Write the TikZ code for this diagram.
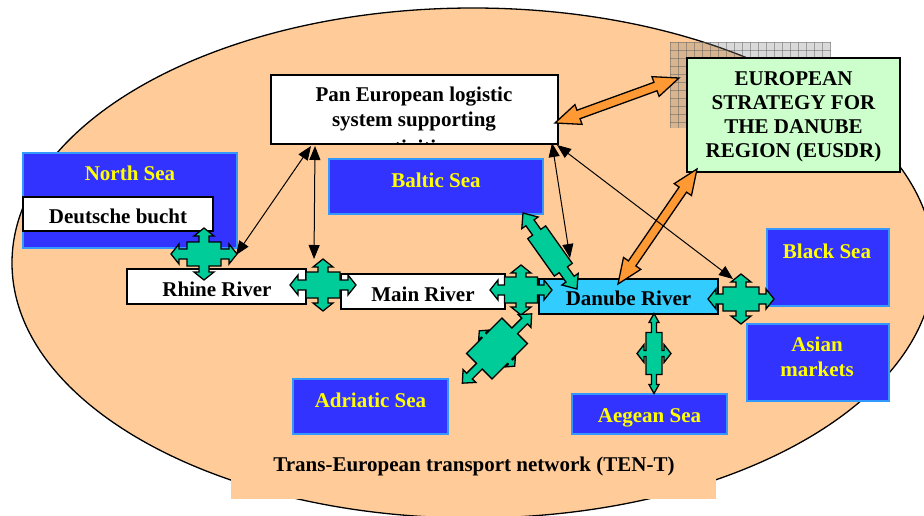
\documentclass[tikz,border=0pt]{standalone}
\usepackage{fontspec}
\setmainfont{Liberation Serif}
\usetikzlibrary{arrows.meta,calc}

\definecolor{bgorange}{HTML}{FFCC99}
\definecolor{seablue}{HTML}{3333FF}
\definecolor{seaedge}{HTML}{3399FF}
\definecolor{seayellow}{HTML}{FFFF00}
\definecolor{eugreen}{HTML}{CCFFCC}
\definecolor{danubecyan}{HTML}{33CCFF}
\definecolor{crossgreen}{HTML}{00CC99}
\definecolor{arrorange}{HTML}{FF9933}

% side-arrow parameters for the quad arrows
\def\qss{5}\def\qsh{10}\def\qsl{8}
% #1 centre, #2 rotation, #3 body half-length, #4 body half-width,
% #5 axis tip distance, #6 side tip distance, #7 stem half-width,
% #8 head half-width, #9 head length
\newcommand\quadarrow[9]{%
 \begin{scope}[shift={(#1)},rotate=#2]
 \path[qstyle] (#3,-#7) -- ({#5-#9},-#7) -- ({#5-#9},-#8) -- (#5,0) -- ({#5-#9},#8) -- ({#5-#9},#7) -- (#3,#7) -- (#3,#4)
   -- (\qss,#4) -- (\qss,{#6-\qsl}) -- (\qsh,{#6-\qsl}) -- (0,#6) -- (-\qsh,{#6-\qsl}) -- (-\qss,{#6-\qsl}) -- (-\qss,#4) -- (-#3,#4)
   -- (-#3,#7) -- ({-(#5-#9)},#7) -- ({-(#5-#9)},#8) -- (-#5,0) -- ({-(#5-#9)},-#8) -- ({-(#5-#9)},-#7) -- (-#3,-#7) -- (-#3,-#4)
   -- (-\qss,-#4) -- (-\qss,{-(#6-\qsl)}) -- (-\qsh,{-(#6-\qsl)}) -- (0,-#6) -- (\qsh,{-(#6-\qsl)}) -- (\qss,{-(#6-\qsl)}) -- (\qss,-#4) -- (#3,-#4) -- cycle;
 \end{scope}}

% block double arrow: #1 from, #2 to, #3 shaft half-width, #4 head half-width, #5 head length
\newcommand\blockarrow[5]{%
 \path[oarrow] (#1)
 -- ($(#1)!#5!(#2)!#4!90:(#2)$)
 -- ($(#1)!#5!(#2)!#3!90:(#2)$)
 -- ($(#2)!#5!(#1)!#3!-90:(#1)$)
 -- ($(#2)!#5!(#1)!#4!-90:(#1)$)
 -- (#2)
 -- ($(#2)!#5!(#1)!#4!90:(#1)$)
 -- ($(#2)!#5!(#1)!#3!90:(#1)$)
 -- ($(#1)!#5!(#2)!#3!-90:(#2)$)
 -- ($(#1)!#5!(#2)!#4!-90:(#2)$)
 -- cycle;}

\begin{document}
\begin{tikzpicture}[x=1pt,y=-1pt,
 lbl/.style={font=\bfseries\fontsize{21}{24}\selectfont, anchor=base, inner sep=0pt},
 ylbl/.style={lbl, text=seayellow},
 seabox/.style={draw=seaedge, fill=seablue, line width=1.5pt, inner sep=0pt},
 wbox/.style={draw=black, fill=white, line width=1.5pt, inner sep=0pt},
 qstyle/.style={draw=black, fill=crossgreen, line width=1.3pt},
 oarrow/.style={draw=black, fill=arrorange, line width=1.3pt},
 blk/.style={line width=1pt, {Triangle[length=14pt,width=11pt]}-{Triangle[length=14pt,width=11pt]}},
]
\useasboundingbox (0,0) rectangle (924,515);

% background ellipse and lower tab
\draw[fill=bgorange, line width=1.3pt] (473,263) ellipse [x radius=461, y radius=255];
\fill[bgorange] (231,430) rectangle (716,499);
\node[lbl] (tent) at (474,471) {Trans-European transport network (TEN-T)};

% hatched area behind EUSDR
\fill[gray, opacity=0.3] (670,42) rectangle (831,128);
\foreach \gx in {670,678,...,830} \draw[gray!70!black, opacity=0.45, line width=0.5pt] (\gx,42) -- (\gx,128);
\foreach \gy in {42,50,...,127} \draw[gray!70!black, opacity=0.45, line width=0.5pt] (670,\gy) -- (831,\gy);

% boxes
\node[seabox, minimum width=214, minimum height=95] (ns) at (130,200.5) {};
\node[ylbl] (nst) at (130,180) {North Sea};
\node[wbox, minimum width=190, minimum height=34] (db) at (118,214) {};
\node[lbl] (dbt) at (118,223) {Deutsche bucht};

\node[wbox, minimum width=287, minimum height=69] (pan) at (414.5,109.5) {};
\node[lbl] (pan1) at (414,101) {Pan European logistic};
\node[lbl] (pan2) at (414,126) {system supporting};
\begin{scope}
 \clip ($(pan.south west)+(0.75,-0.75)$) rectangle ($(pan.north east)+(-0.75,0.75)$);
 \node[lbl] (pan3) at (414,154) {activities};
\end{scope}

\node[seabox, minimum width=214, minimum height=55] (baltic) at (436,186.5) {};
\node[ylbl] (baltict) at (436,187) {Baltic Sea};

\node[draw=black, fill=eugreen, line width=1.5pt, minimum width=213, minimum height=114] (eu) at (793.5,115) {};
\node[lbl] (eu1) at (793.5,85) {EUROPEAN};
\node[lbl] (eu2) at (793.5,109) {STRATEGY FOR};
\node[lbl] (eu3) at (793.5,133) {THE DANUBE};
\node[lbl] (eu4) at (793.5,157) {REGION (EUSDR)};

\node[seabox, minimum width=122, minimum height=77] (bs) at (828,267.5) {};
\node[ylbl] (bst) at (827,258) {Black Sea};
\node[seabox, minimum width=142, minimum height=77] (as) at (818,362.5) {};
\node[ylbl] (ast1) at (817,351) {Asian};
\node[ylbl] (ast2) at (817,376) {markets};
\node[seabox, minimum width=155, minimum height=55] (adr) at (370.5,406.5) {};
\node[ylbl] (adrt) at (370.5,407) {Adriatic Sea};
\node[seabox, minimum width=155, minimum height=40] (aeg) at (649.5,414) {};
\node[ylbl] (aegt) at (649.5,422) {Aegean Sea};

\node[wbox, minimum width=179, minimum height=35] (rh) at (216.5,286.5) {};
\node[lbl] (rht) at (217,296) {Rhine River};
\node[wbox, minimum width=164, minimum height=35] (mn) at (423,291.5) {};
\node[lbl] (mnt) at (423,301) {Main River};
\node[draw=black, fill=danubecyan, line width=1.5pt, minimum width=179, minimum height=35] (dn) at (628.5,296.5) {};
\node[lbl] (dnt) at (628.5,305) {Danube River};

% green junction arrows
\quadarrow{204,254}{0}{17}{12}{33}{26}{5}{10}{8}
\quadarrow{323,285}{0}{17}{13}{33}{26}{5}{10}{8}
\quadarrow{521,290}{0}{16.5}{13}{31}{25}{5}{10}{8}
\quadarrow{741,299}{0}{18}{12}{33}{25}{5}{10}{8}
\def\qss{3}\def\qsh{9}\def\qsl{7}
\quadarrow{654,353.5}{90}{21}{8}{40}{17}{2.5}{5}{9}
\def\qss{3}\def\qsh{7}\def\qsl{6}
\quadarrow{497,348.5}{45}{25}{18}{49}{25}{4}{9}{10}
\def\qss{0}\def\qsh{0}\def\qsl{0}
\quadarrow{550,251}{-54.6}{23}{11}{46.6}{11}{5}{10}{12}

% orange block arrows
\coordinate (oe1) at (555,123);
\coordinate (oe2) at (679,78);
\coordinate (of1) at (697,169);
\coordinate (of2) at (618,284);
\blockarrow{oe1}{oe2}{4.5pt}{10.5pt}{25pt}
\blockarrow{of1}{of2}{4.5pt}{10.5pt}{25pt}

% black double arrows
\coordinate (pa) at (311,146);
\coordinate (pb) at (315,146);
\coordinate (pc) at (552,143);
\coordinate (pd) at (557,145);
\coordinate (qa) at (236,255);
\coordinate (qb) at (314,259);
\coordinate (qc) at (570,258);
\coordinate (qd) at (733,279);
\draw[blk] (pa) -- (qa);
\draw[blk] (pb) -- (qb);
\draw[blk] (pc) -- (qc);
\draw[blk] (pd) -- (qd);
\end{tikzpicture}
\end{document}
